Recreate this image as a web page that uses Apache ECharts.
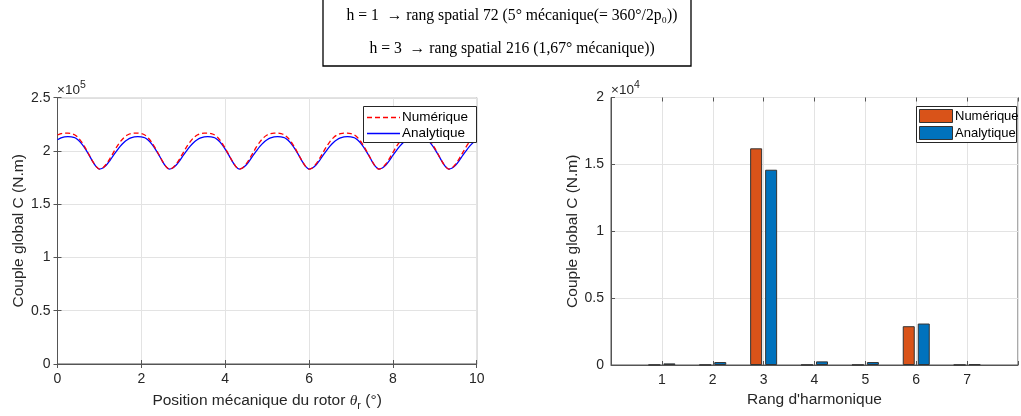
<!DOCTYPE html>
<html>
<head>
<meta charset="utf-8">
<script src="https://cdn.jsdelivr.net/npm/echarts@6/dist/echarts.min.js"></script>
<style>html,body{margin:0;padding:0;background:#fff;}#c{width:1021px;height:416px;}</style>
</head>
<body>
<div id="c"></div>
<script>
// Left plot: global torque vs rotor mechanical position (deg)
const positions = [0,0.083,0.167,0.25,0.333,0.417,0.5,0.583,0.667,0.75,0.833,0.917,1,1.083,1.167,1.25,1.333,1.417,1.5,1.583,1.667,1.75,1.833,1.917,2,2.083,2.167,2.25,2.333,2.417,2.5,2.583,2.667,2.75,2.833,2.917,3,3.083,3.167,3.25,3.333,3.417,3.5,3.583,3.667,3.75,3.833,3.917,4,4.083,4.167,4.25,4.333,4.417,4.5,4.583,4.667,4.75,4.833,4.917,5,5.083,5.167,5.25,5.333,5.417,5.5,5.583,5.667,5.75,5.833,5.917,6,6.083,6.167,6.25,6.333,6.417,6.5,6.583,6.667,6.75,6.833,6.917,7,7.083,7.167,7.25,7.333,7.417,7.5,7.583,7.667,7.75,7.833,7.917,8,8.083,8.167,8.25,8.333,8.417,8.5,8.583,8.667,8.75,8.833,8.917,9,9.083,9.167,9.25,9.333,9.417,9.5,9.583,9.667,9.75,9.833,9.917,10];
const torqueNumerique = [215000,216300,216800,216800,216300,215000,212200,208000,202700,196700,190700,185600,
183000,184300,187800,192800,198500,204000,208800,212500,215000,216300,216800,216800,216300,215000,212200,208000,202700,196700,190700,185600,
183000,184300,187800,192800,198500,204000,208800,212500,215000,216300,216800,216800,216300,215000,212200,208000,202700,196700,190700,185600,
183000,184300,187800,192800,198500,204000,208800,212500,215000,216300,216800,216800,216300,215000,212200,208000,202700,196700,190700,185600,
183000,184300,187800,192800,198500,204000,208800,212500,215000,216300,216800,216800,216300,215000,212200,208000,202700,196700,190700,185600,
183000,184300,187800,192800,198500,204000,208800,212500,215000,216300,216800,216800,216300,215000,212200,208000,202700,196700,190700,185600,
183000,184300,187800,192800,198500,204000,208800,212500,215000];
const torqueAnalytique = [210500,212200,213200,213500,213300,212400,210000,206500,201800,196300,190500,185500,
183000,184000,186800,191000,195800,200300,204500,208000,210500,212200,213200,213500,213300,212400,210000,206500,201800,196300,190500,185500,
183000,184000,186800,191000,195800,200300,204500,208000,210500,212200,213200,213500,213300,212400,210000,206500,201800,196300,190500,185500,
183000,184000,186800,191000,195800,200300,204500,208000,210500,212200,213200,213500,213300,212400,210000,206500,201800,196300,190500,185500,
183000,184000,186800,191000,195800,200300,204500,208000,210500,212200,213200,213500,213300,212400,210000,206500,201800,196300,190500,185500,
183000,184000,186800,191000,195800,200300,204500,208000,210500,212200,213200,213500,213300,212400,210000,206500,201800,196300,190500,185500,
183000,184000,186800,191000,195800,200300,204500,208000,210500];

// Right plot: harmonic spectrum
const harmonics = [1,2,3,4,5,6,7];
const harmNumerique = [15,15,16200,15,15,2900,15];
const harmAnalytique = [120,220,14600,270,220,3100,60];

// Tick labels and texts
const leftYTicks = ['0','0.5','1','1.5','2','2.5'];
const rightYTicks = ['0','0.5','1','1.5','2'];
const seriesNames = ['Numérique', 'Analytique'];
const titleLine1 = 'h = 1  → rang spatial 72 (5° mécanique(= 360°/2p₀))';
const titleLine2 = 'h = 3  → rang spatial 216 (1,67° mécanique))';

const AX = '#262626';
const FONT = 'Liberation Sans';
const RED = '#ff0000', BLUE = '#0000ff', ORANGE = '#D95319', MBLUE = '#0072BD';
const lineData = (ys) => positions.map((x, i) => [x, ys[i]]);
const barData = (ys) => harmonics.map((h, i) => [h, ys[i]]);

const chart = echarts.init(document.getElementById('c'), null, {renderer: 'canvas'});

const axisLineStyle = {lineStyle: {color: '#555', width: 1}};
const tickStyle = {show: true, inside: true, length: 4, lineStyle: {color: '#555'}};
const splitStyle = {show: true, lineStyle: {color: '#e3e3e3', width: 1}};
const labelStyle = {color: AX, fontSize: 14, fontFamily: FONT};
const NAMESIZE = 15.5;
const legText = (x, y, t, s) => ({type: 'text', x: x, y: y, style: {text: t, font: s + 'px "Liberation Sans"', fill: '#000', align: 'left', verticalAlign: 'middle'}, z: 21});

const option = {
  animation: false,
  backgroundColor: '#fff',
  textStyle: {fontFamily: FONT},
  graphic: [
    {type: 'rect', shape: {x: 323, y: -2, width: 368, height: 68}, style: {fill: '#fff', stroke: '#000', lineWidth: 1.3}, z: 10},
    {type: 'text', x: 512, y: 16, style: {text: titleLine1, font: '15.7px "Liberation Serif"', fill: '#000', align: 'center', verticalAlign: 'middle'}, z: 11},
    {type: 'text', x: 512, y: 49, style: {text: titleLine2, font: '15.7px "Liberation Serif"', fill: '#000', align: 'center', verticalAlign: 'middle'}, z: 11},
    {type: 'text', x: 57, y: 80, style: {rich: {a: {fontSize: 13.5, fontFamily: FONT, fill: AX}, b: {fontSize: 10.5, fontFamily: FONT, fill: AX, padding: [0, 0, 9, 0]}}, text: '{a|×10}{b|5}'}, z: 11},
    {type: 'text', x: 611, y: 80, style: {rich: {a: {fontSize: 13.5, fontFamily: FONT, fill: AX}, b: {fontSize: 10.5, fontFamily: FONT, fill: AX, padding: [0, 0, 9, 0]}}, text: '{a|×10}{b|4}'}, z: 11},
    // left legend
    {type: 'rect', shape: {x: 363.5, y: 106.5, width: 113, height: 36}, style: {fill: '#fff', stroke: '#262626', lineWidth: 1}, z: 20},
    {type: 'line', shape: {x1: 367, y1: 117.5, x2: 400, y2: 117.5}, style: {stroke: RED, lineWidth: 1.3, lineDash: [5, 3]}, z: 21},
    {type: 'line', shape: {x1: 367, y1: 133.5, x2: 400, y2: 133.5}, style: {stroke: BLUE, lineWidth: 1.3}, z: 21},
    legText(402, 117.5, seriesNames[0], 13.5),
    legText(402, 133.5, seriesNames[1], 13.5),
    // right legend
    {type: 'rect', shape: {x: 916.5, y: 106.5, width: 100, height: 36}, style: {fill: '#fff', stroke: '#262626', lineWidth: 1}, z: 20},
    {type: 'rect', shape: {x: 919.5, y: 109.5, width: 33, height: 13}, style: {fill: ORANGE, stroke: '#333', lineWidth: 1}, z: 21},
    {type: 'rect', shape: {x: 919.5, y: 126.5, width: 33, height: 13}, style: {fill: MBLUE, stroke: '#333', lineWidth: 1}, z: 21},
    legText(955, 116, seriesNames[0], 13),
    legText(955, 133, seriesNames[1], 13)
  ],
  grid: [
    {left: 57.5, top: 97.7, width: 419.2, height: 267, show: true, borderColor: '#555', borderWidth: 1, backgroundColor: '#fff', containLabel: false},
    {left: 611, top: 97.5, width: 419, height: 267.5, show: true, borderColor: '#555', borderWidth: 1, backgroundColor: '#fff', containLabel: false}
  ],
  xAxis: [
    {gridIndex: 0, type: 'value', min: 0, max: 10, interval: 2, axisLine: axisLineStyle, axisTick: tickStyle, splitLine: splitStyle,
     axisLabel: Object.assign({margin: 8}, labelStyle),
     name: '{n|Position mécanique du rotor }{t|θ}{s|r}{n| (°)}', nameLocation: 'middle', nameGap: 26,
     nameTextStyle: {rich: {n: {fontSize: NAMESIZE, color: AX, fontFamily: FONT}, t: {fontSize: NAMESIZE, color: AX, fontFamily: 'Liberation Serif', fontStyle: 'italic'}, s: {fontSize: 11, color: AX, fontFamily: FONT, padding: [10, 0, 0, 0]}}}},
    {gridIndex: 1, type: 'value', min: 0, max: 8, interval: 1, axisLine: axisLineStyle, axisTick: tickStyle, splitLine: splitStyle,
     axisLabel: Object.assign({margin: 8, formatter: (v) => (v === 0 || v === 8) ? '' : String(v)}, labelStyle),
     name: "Rang d'harmonique", nameLocation: 'middle', nameGap: 27,
     nameTextStyle: {fontSize: NAMESIZE, color: AX, fontFamily: FONT}},
    {gridIndex: 0, type: 'value', position: 'top', min: 0, max: 10, interval: 2, axisLine: {show: false}, axisTick: tickStyle, axisLabel: {show: false}, splitLine: {show: false}},
    {gridIndex: 1, type: 'value', position: 'top', min: 0, max: 8, interval: 1, axisLine: {show: false}, axisTick: tickStyle, axisLabel: {show: false}, splitLine: {show: false}}
  ],
  yAxis: [
    {gridIndex: 0, type: 'value', min: 0, max: 250000, interval: 50000, axisLine: {show: true, lineStyle: {color: '#555'}}, axisTick: tickStyle, splitLine: splitStyle,
     axisLabel: Object.assign({margin: 7, formatter: (v) => leftYTicks[Math.round(v / 50000)]}, labelStyle),
     name: 'Couple global C (N.m)', nameLocation: 'middle', nameGap: 25.5, nameTextStyle: {fontSize: NAMESIZE, color: AX, fontFamily: FONT}},
    {gridIndex: 1, type: 'value', min: 0, max: 20000, interval: 5000, axisLine: {show: true, lineStyle: {color: '#555'}}, axisTick: tickStyle, splitLine: splitStyle,
     axisLabel: Object.assign({margin: 7, formatter: (v) => rightYTicks[Math.round(v / 5000)]}, labelStyle),
     name: 'Couple global C (N.m)', nameLocation: 'middle', nameGap: 20.5, nameTextStyle: {fontSize: NAMESIZE, color: AX, fontFamily: FONT}},
    {gridIndex: 0, type: 'value', position: 'right', min: 0, max: 250000, interval: 50000, axisLine: {show: false}, axisTick: tickStyle, axisLabel: {show: false}, splitLine: {show: false}}
  ],
  series: [
    {name: seriesNames[0], type: 'line', xAxisIndex: 0, yAxisIndex: 0, data: lineData(torqueNumerique), showSymbol: false, symbol: 'none', smooth: 0.3,
     lineStyle: {color: RED, width: 1.3, type: [5, 3]}, itemStyle: {color: RED}, z: 3},
    {name: seriesNames[1], type: 'line', xAxisIndex: 0, yAxisIndex: 0, data: lineData(torqueAnalytique), showSymbol: false, symbol: 'none', smooth: 0.3,
     lineStyle: {color: BLUE, width: 1.3}, itemStyle: {color: BLUE}, z: 2},
    {name: seriesNames[0] + ' ', type: 'bar', xAxisIndex: 1, yAxisIndex: 1, data: barData(harmNumerique), barWidth: 12, barGap: '25%',
     itemStyle: {color: ORANGE, borderColor: '#333', borderWidth: 1}},
    {name: seriesNames[1] + ' ', type: 'bar', xAxisIndex: 1, yAxisIndex: 1, data: barData(harmAnalytique), barWidth: 12, barGap: '25%',
     itemStyle: {color: MBLUE, borderColor: '#333', borderWidth: 1}}
  ]
};
chart.setOption(option);
</script>
</body>
</html>
